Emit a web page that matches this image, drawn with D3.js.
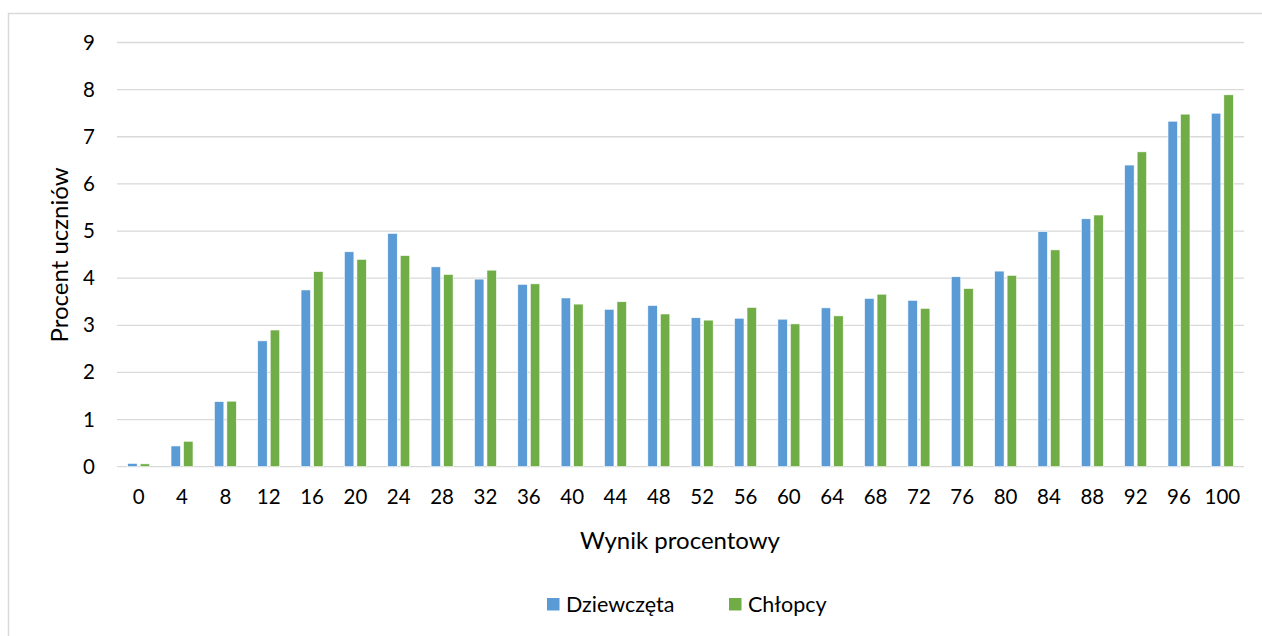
<!DOCTYPE html>
<html>
<head>
<meta charset="utf-8">
<script src="https://cdn.jsdelivr.net/npm/d3@7"></script>
<style>
  html, body { margin: 0; padding: 0; background: #fff; }
  svg { display: block; }
  text { font-family: Lato, "Open Sans", sans-serif; fill: #000; }
</style>
</head>
<body>
<svg id="chart" width="1262" height="636"></svg>
<script>
const categories = ["0","4","8","12","16","20","24","28","32","36","40","44","48","52","56","60","64","68","72","76","80","84","88","92","96","100"];
const seriesNames = ["Dziewczęta", "Chłopcy"];
const dziewczeta = [0.07,0.44,1.38,2.67,3.75,4.56,4.95,4.24,3.98,3.87,3.58,3.34,3.42,3.16,3.15,3.13,3.37,3.57,3.53,4.03,4.15,4.99,5.26,6.40,7.33,7.50];
const chlopcy    = [0.06,0.54,1.39,2.90,4.14,4.40,4.48,4.08,4.17,3.88,3.45,3.50,3.24,3.11,3.38,3.03,3.20,3.66,3.36,3.78,4.06,4.60,5.34,6.68,7.48,7.89];
const yTicks = [0,1,2,3,4,5,6,7,8,9];
const colors = ["#5b9bd5", "#70ad47"];

const svg = d3.select("#chart");
const plot = { left: 117, right: 1244, top: 42.5, bottom: 466.7 };

// outer chart border
svg.append("rect")
  .attr("x", 8.5).attr("y", 13.5)
  .attr("width", 1300).attr("height", 700)
  .attr("fill", "none").attr("stroke", "#d9d9d9").attr("stroke-width", 1.5);

const x0 = d3.scaleBand().domain(categories).range([plot.left, plot.right]).padding(0);
const x1 = d3.scaleBand().domain(seriesNames).range([0, x0.bandwidth()])
  .paddingInner(0.24).paddingOuter(0.854);
const y = d3.scaleLinear().domain([0, 9]).range([plot.bottom, plot.top]);

// gridlines
svg.append("g").selectAll("line").data(yTicks).join("line")
  .attr("x1", plot.left).attr("x2", plot.right)
  .attr("y1", d => y(d)).attr("y2", d => y(d))
  .attr("stroke", "#d9d9d9").attr("stroke-width", 1.3);

// y axis labels
const yAxis = d3.axisLeft(y).tickValues(yTicks).tickSize(0).tickPadding(0).tickFormat(d3.format("d"));
const yg = svg.append("g").attr("transform", `translate(${plot.left - 22},0)`).call(yAxis);
yg.select(".domain").remove();
yg.selectAll("text").attr("font-size", 20.5).attr("font-family", "Lato, sans-serif").attr("fill", "#000");

// x axis labels
const xAxis = d3.axisBottom(x0).tickSize(0).tickPadding(0);
const xg = svg.append("g").attr("transform", `translate(0,${plot.bottom + 23})`).call(xAxis);
xg.select(".domain").remove();
xg.selectAll("text").attr("font-size", 20.5).attr("font-family", "Lato, sans-serif").attr("fill", "#000");

// bars
const data = categories.map((c, i) => ({ cat: c, vals: [dziewczeta[i], chlopcy[i]] }));
const groups = svg.append("g").selectAll("g").data(data).join("g")
  .attr("transform", d => `translate(${x0(d.cat)},0)`);
groups.selectAll("rect").data(d => d.vals.map((v, j) => ({ s: seriesNames[j], v, j })))
  .join("rect")
  .attr("x", d => x1(d.s))
  .attr("width", x1.bandwidth())
  .attr("y", d => y(d.v))
  .attr("height", d => y(0) - y(d.v))
  .attr("fill", d => colors[d.j])
  .attr("stroke", "#ffffff").attr("stroke-width", 0.6);

// axis titles
svg.append("text")
  .attr("transform", `translate(68,255) rotate(-90)`)
  .attr("text-anchor", "middle")
  .attr("font-size", 24)
  .text("Procent uczniów");

svg.append("text")
  .attr("x", 680).attr("y", 549)
  .attr("text-anchor", "middle")
  .attr("font-size", 24)
  .text("Wynik procentowy");

// legend
const legendX = [547, 729];
const lg = svg.append("g");
seriesNames.forEach((name, i) => {
  lg.append("rect").attr("x", legendX[i]).attr("y", 598).attr("width", 12.5).attr("height", 12.5).attr("fill", colors[i]);
  lg.append("text").attr("x", legendX[i] + 19).attr("y", 612).attr("font-size", 21.5).text(name);
});
</script>
</body>
</html>
